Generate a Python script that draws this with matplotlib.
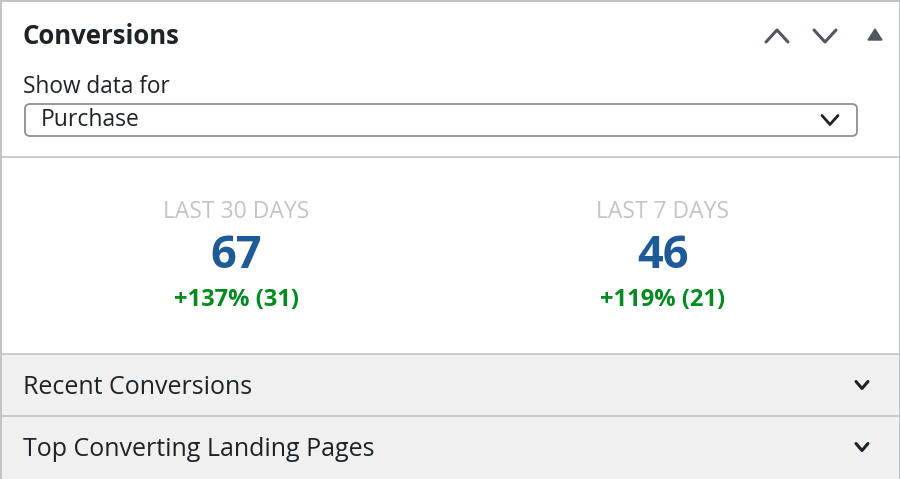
import matplotlib
matplotlib.use("Agg")
import matplotlib.pyplot as plt
from matplotlib.patches import FancyBboxPatch, Rectangle, Polygon

plt.rcParams['font.family'] = ['Open Sans', 'DejaVu Sans']

title = "Conversions"
selector_label = "Show data for"
selected = "Purchase"
periods = ["LAST 30 DAYS", "LAST 7 DAYS"]
values = [67, 46]
changes = ["+137% (31)", "+119% (21)"]
sections = ["Recent Conversions", "Top Converting Landing Pages"]

fig = plt.figure(figsize=(9, 4.79), dpi=100)
ax = fig.add_axes([0, 0, 1, 1])
ax.set_xlim(0, 900); ax.set_ylim(479, 0); ax.axis('off')

dark = '#1d2327'; gray = '#50575e'; line = '#c3c4c7'
ax.add_patch(Rectangle((0, 354), 900, 125, color='#f0f0f1', zorder=0))
for y in (157, 354, 416):
    ax.plot([0, 900], [y, y], color=line, lw=1.2)
ax.plot([0.5, 0.5], [0, 479], color=line, lw=1.5)
ax.plot([899.5, 899.5], [0, 479], color=line, lw=1.5)
ax.plot([0, 900], [0.5, 0.5], color=line, lw=1.5)

ax.text(23, 36, title, fontsize=18.5, fontweight='bold', color=dark, va='center')

def chevron(x, y, w, h, up, color=gray, lw=2.2):
    s = -1 if up else 1
    ax.plot([x - w, x, x + w], [y - s * h, y + s * h, y - s * h], color=color, lw=lw,
            solid_capstyle='round', solid_joinstyle='round')

chevron(777, 36, 11, 6, True)
chevron(825, 36, 11, 6, False)
ax.add_patch(Polygon([[868, 40], [882, 40], [875, 29]], color=gray))

ax.text(23, 87, selector_label, fontsize=16.3, color=dark, va='center')
ax.add_patch(FancyBboxPatch((25, 104), 832, 32, boxstyle='round,pad=0,rounding_size=5',
                            fc='white', ec='#8c8f94', lw=1.3))
ax.text(41, 120, selected, fontsize=16.5, color=dark, va='center')
chevron(830, 120, 8, 4.5, False, color=dark, lw=2.0)

for i, x in enumerate([236, 663]):
    ax.text(x, 212, periods[i], fontsize=16.5, color='#c3c4c7', ha='center', va='center')
    ax.text(x, 257, str(values[i]), fontsize=32.5, fontweight='bold', color='#1e5a96',
            ha='center', va='center')
    ax.text(x, 300, changes[i], fontsize=17, fontweight='bold', color='#008a20',
            ha='center', va='center')

for y, s in zip([387, 449], sections):
    ax.text(23, y, s, fontsize=18, color=dark, va='center')
    chevron(862, y - 2, 6, 3.5, False, color=dark, lw=2.2)

fig.savefig('out.png', dpi=100)
